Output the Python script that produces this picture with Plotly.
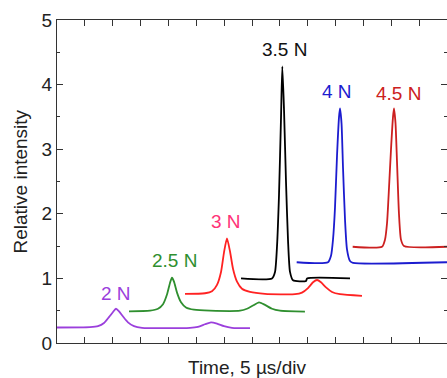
import plotly.graph_objects as go

# ---- data (time in µs, relative intensity) ----
t_2n = [0, 5.92, 7.36, 8.44, 9.33, 10.05, 10.59, 11.13, 11.85, 12.74, 13.82, 15.26,
        23.87, 25.3, 26.56, 27.64, 28.72, 29.97, 31.4, 34.64]
i_2n = [0.24, 0.245, 0.26, 0.31, 0.40, 0.48, 0.53, 0.49, 0.41, 0.32, 0.26, 0.235,
        0.235, 0.25, 0.29, 0.32, 0.30, 0.26, 0.235, 0.23]

t_25n = [12.92, 16.69, 18.13, 19.03, 19.74, 20.28, 20.64, 21.0, 21.54, 22.26, 23.15, 24.59,
         27.46, 32.85, 34.1, 35.18, 36.26, 37.33, 38.59, 40.03, 44.5]
i_25n = [0.49, 0.50, 0.53, 0.60, 0.75, 0.93, 1.01, 0.95, 0.78, 0.63, 0.55, 0.515,
         0.50, 0.50, 0.53, 0.58, 0.63, 0.59, 0.53, 0.50, 0.485]

t_3n = [22.97, 26.56, 27.82, 28.72, 29.44, 29.97, 30.51, 31.05, 31.59, 32.31, 33.2, 34.64,
        37.33, 42.72, 43.97, 45.05, 45.95, 46.67, 47.38, 48.28, 49.36, 50.8, 54.74]
i_3n = [0.76, 0.77, 0.80, 0.90, 1.10, 1.40, 1.62, 1.42, 1.15, 0.95, 0.84, 0.79,
        0.76, 0.755, 0.78, 0.85, 0.94, 0.975, 0.94, 0.86, 0.79, 0.755, 0.73]

t_35n = [33.03, 38.59, 39.13, 39.49, 39.85, 40.21, 40.44, 40.75, 41.1, 41.46, 41.82, 42.36,
         44.7, 44.88, 52.59]
i_35n = [1.0, 1.0, 1.1, 1.5, 2.3, 3.5, 4.28, 3.6, 2.5, 1.6, 1.1, 0.97,
         0.96, 1.0, 1.0]

t_4n = [43.02, 48.64, 49.18, 49.54, 49.9, 50.26, 50.62, 50.8, 51.07, 51.34, 51.7, 52.05,
        52.59, 53.13, 70]
i_4n = [1.25, 1.25, 1.35, 1.6, 2.1, 2.9, 3.5, 3.63, 3.4, 2.7, 1.9, 1.45,
        1.27, 1.24, 1.25]

t_45n = [53.07, 58.33, 58.87, 59.23, 59.59, 59.95, 60.31, 60.49, 60.76, 61.03, 61.38, 61.74,
         62.28, 70]
i_45n = [1.49, 1.49, 1.6, 1.85, 2.4, 3.0, 3.5, 3.63, 3.4, 2.8, 2.0, 1.6,
         1.5, 1.49]

label_text = ["2 N", "2.5 N", "3 N", "3.5 N", "4 N", "4.5 N"]
label_x = [10.59, 21.0, 30.4, 40.8, 50.2, 61.26]
label_y = [0.76, 1.27, 1.88, 4.54, 3.90, 3.865]

y_ticks = [0, 1, 2, 3, 4, 5]
x_title = "Time, 5 \u00b5s/div"
y_title = "Relative intensity"

# ---- styling ----
FONT = "Liberation Sans, Arial, sans-serif"
line_colors = ["#9b3fdc", "#2f8f2f", "#ff2222", "#000000", "#1c1ccf", "#cc2020"]
label_colors = ["#9b3fdc", "#2f8f2f", "#ff3377", "#111111", "#1c1ccf", "#cc2020"]
AXIS = "#333333"

series = [(t_2n, i_2n), (t_25n, i_25n), (t_3n, i_3n),
          (t_35n, i_35n), (t_4n, i_4n), (t_45n, i_45n)]

fig = go.Figure()
for (tx, iy), col, name in zip(series, line_colors, label_text):
    fig.add_trace(go.Scatter(x=tx, y=iy, mode="lines", name=name,
                             line=dict(color=col, width=1.8, shape="spline", smoothing=0.6),
                             showlegend=False, hoverinfo="skip"))

# invisible trace to carry the right-hand tick axis
fig.add_trace(go.Scatter(x=[None], y=[None], yaxis="y2", showlegend=False,
                         hoverinfo="skip", mode="lines"))

for txt, lx, ly, col in zip(label_text, label_x, label_y, label_colors):
    fig.add_annotation(x=lx, y=ly, text=txt, showarrow=False,
                       font=dict(family=FONT, size=19, color=col),
                       xanchor="center", yanchor="middle")

fig.add_annotation(xref="paper", yref="paper", x=(247 - 57) / 390, y=-(367 - 343) / 323,
                   text=x_title, showarrow=False, xanchor="center", yanchor="middle",
                   font=dict(family=FONT, size=19, color="#222222"))
fig.add_annotation(xref="paper", yref="paper", x=(20 - 57) / 390, y=0.5,
                   text=y_title, showarrow=False, textangle=-90,
                   xanchor="center", yanchor="middle",
                   font=dict(family=FONT, size=19, color="#222222"))

fig.update_layout(
    width=447, height=378,
    margin=dict(l=57, r=0, t=20, b=35),
    paper_bgcolor="white", plot_bgcolor="white",
    xaxis=dict(range=[0, 70], tick0=0, dtick=5, ticks="inside", ticklen=6,
               tickcolor=AXIS, showticklabels=False, showline=True,
               linecolor=AXIS, linewidth=1, mirror="ticks",
               showgrid=False, zeroline=False, fixedrange=True),
    yaxis=dict(range=[0, 5], tickvals=y_ticks, ticks="inside", ticklen=6,
               tickcolor=AXIS, showline=True, linecolor=AXIS, linewidth=1,
               mirror=False, showgrid=False, zeroline=False,
               minor=dict(dtick=0.5, ticks="inside", ticklen=3, tickcolor=AXIS),
               tickfont=dict(family=FONT, size=19, color="#222222"),
               fixedrange=True),
    yaxis2=dict(range=[0, 5], overlaying="y", side="right", tickvals=y_ticks,
                ticks="inside", ticklen=6, tickcolor=AXIS, showticklabels=False,
                showline=False, showgrid=False, zeroline=False,
                minor=dict(dtick=0.5, ticks="inside", ticklen=3, tickcolor=AXIS),
                fixedrange=True),
)

fig.write_html("out.html")
